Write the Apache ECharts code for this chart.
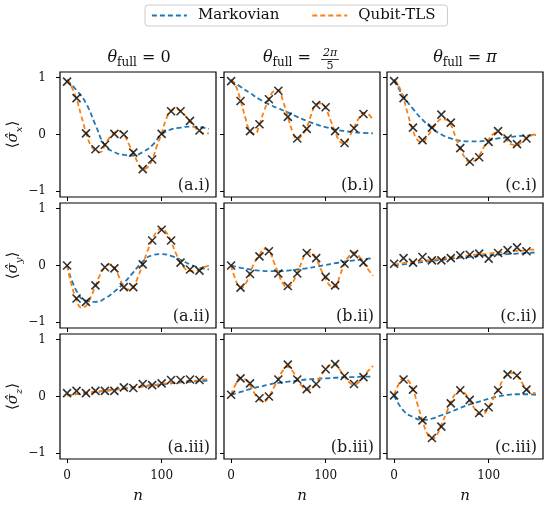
<!DOCTYPE html>
<html><head><meta charset="utf-8">
<script src="https://cdn.jsdelivr.net/npm/echarts@6/dist/echarts.min.js"></script>
<style>html,body{margin:0;padding:0;background:#fff}#c{width:546px;height:508px}</style>
</head><body><div id="c"></div>
<script>
// ---------- sampling grids (n) ----------
const markerN = [0,10,20,30,40,50,60,70,80,90,100,110,120,130,140];
const markovN = [0,10,20,30,40,50,60,70,80,90,100,110,120,130,140,150];
const tlsN = [0,5,10,15,20,25,30,35,40,45,50,55,60,65,70,75,80,85,90,95,100,105,110,115,120,125,130,135,140,145,150];
const xTicks = [0, 100];
const yTicks = [-1, 0, 1];
const panelLabels = ['(a.i)','(b.i)','(c.i)','(a.ii)','(b.ii)','(c.ii)','(a.iii)','(b.iii)','(c.iii)'];
const legendNames = ['Markovian', 'Qubit-TLS'];

// ---------- row i : <sigma_x> ----------
const markAI = [0.93,0.64,0.02,-0.26,-0.18,0.01,0.0,-0.32,-0.61,-0.44,0.01,0.41,0.41,0.24,0.07];
const tlsAI = [0.97,0.83,0.62,0.33,0.04,-0.19,-0.28,-0.31,-0.19,-0.05,0.03,0.06,0.0,-0.16,-0.32,-0.5,-0.61,-0.58,-0.44,-0.2,0.02,0.28,0.42,0.45,0.41,0.33,0.23,0.13,0.06,0.02,0.02];
const markovAI = [0.95,0.78,0.55,0.17,-0.19,-0.31,-0.36,-0.37,-0.31,-0.19,0.0,0.09,0.12,0.14,0.13,0.1];

const markBI = [0.94,0.59,0.06,0.18,0.62,0.77,0.31,-0.07,0.10,0.52,0.48,0.06,-0.15,0.11,0.36];
const tlsBI = [0.97,0.85,0.6,0.3,0.06,0.01,0.18,0.42,0.62,0.76,0.78,0.58,0.31,0.05,-0.08,-0.01,0.12,0.36,0.53,0.55,0.46,0.26,0.05,-0.12,-0.16,-0.04,0.12,0.28,0.38,0.36,0.24];
const markovBI = [0.95,0.84,0.73,0.62,0.53,0.46,0.39,0.31,0.24,0.18,0.13,0.09,0.06,0.04,0.03,0.02];

const markCI = [0.94,0.64,0.12,-0.10,0.12,0.35,0.21,-0.24,-0.48,-0.40,-0.13,0.06,-0.07,-0.17,-0.07];
const tlsCI = [0.97,0.85,0.63,0.33,0.07,-0.1,-0.13,-0.04,0.09,0.2,0.27,0.26,0.17,-0.04,-0.24,-0.41,-0.49,-0.46,-0.37,-0.22,-0.09,0.01,0.04,-0.02,-0.11,-0.18,-0.19,-0.13,-0.06,-0.01,0.0];
const markovCI = [0.95,0.67,0.45,0.26,0.11,0.0,-0.07,-0.11,-0.12,-0.12,-0.1,-0.07,-0.05,-0.03,-0.02,-0.01];

// ---------- row ii : <sigma_y> ----------
const markAII = [0.0,-0.58,-0.64,-0.35,-0.03,-0.05,-0.38,-0.38,0.02,0.44,0.63,0.44,0.05,-0.07,-0.09];
const tlsAII = [0.0,-0.36,-0.6,-0.74,-0.71,-0.56,-0.36,-0.16,-0.03,0.02,-0.04,-0.2,-0.37,-0.42,-0.38,-0.2,0.02,0.25,0.45,0.6,0.65,0.58,0.42,0.22,0.05,-0.06,-0.1,-0.1,-0.07,-0.03,0.0];
const markovAII = [0.0,-0.45,-0.62,-0.64,-0.58,-0.46,-0.31,-0.12,0.07,0.18,0.2,0.17,0.1,0.02,-0.04,-0.07];

const markBII = [0.0,-0.39,-0.15,0.16,0.25,-0.14,-0.36,-0.14,0.22,0.13,-0.2,-0.35,0.03,0.2,0.05];
const tlsBII = [0.0,-0.26,-0.4,-0.33,-0.14,0.06,0.18,0.29,0.26,0.07,-0.14,-0.32,-0.39,-0.3,-0.13,0.07,0.23,0.22,0.12,-0.07,-0.23,-0.36,-0.38,-0.18,0.03,0.17,0.23,0.17,0.05,-0.07,-0.18];
const markovBII = [0.0,-0.04,-0.07,-0.09,-0.1,-0.1,-0.09,-0.07,-0.05,-0.02,0.01,0.04,0.07,0.09,0.11,0.13];

const markCII = [0.03,0.13,0.05,0.15,0.09,0.09,0.13,0.18,0.19,0.21,0.12,0.22,0.27,0.32,0.25];
const tlsCII = [0.01,0.03,0.04,0.05,0.06,0.07,0.08,0.09,0.1,0.11,0.12,0.13,0.14,0.15,0.16,0.17,0.18,0.19,0.2,0.2,0.21,0.22,0.23,0.23,0.24,0.25,0.26,0.26,0.27,0.28,0.28];
const markovCII = [0.0,0.02,0.04,0.06,0.08,0.1,0.12,0.14,0.15,0.17,0.18,0.19,0.2,0.21,0.22,0.23];

// ---------- row iii : <sigma_z> ----------
const markAIII = [0.06,0.1,0.06,0.1,0.1,0.1,0.16,0.15,0.22,0.2,0.23,0.29,0.29,0.3,0.29];
const tlsAIII = [0.02,0.03,0.04,0.05,0.06,0.07,0.08,0.09,0.1,0.11,0.12,0.13,0.14,0.15,0.16,0.17,0.18,0.19,0.2,0.21,0.22,0.23,0.24,0.25,0.26,0.27,0.28,0.28,0.29,0.3,0.31];
const markovAIII = [0.02,0.04,0.06,0.08,0.1,0.12,0.14,0.16,0.18,0.2,0.21,0.23,0.25,0.26,0.27,0.28];

const markBIII = [0.03,0.32,0.23,-0.03,0.0,0.3,0.56,0.3,0.13,0.22,0.48,0.57,0.36,0.22,0.34];
const tlsBIII = [0.03,0.22,0.33,0.3,0.2,0.05,-0.06,-0.09,0.0,0.15,0.31,0.46,0.52,0.45,0.3,0.18,0.12,0.14,0.22,0.36,0.48,0.56,0.57,0.47,0.35,0.25,0.21,0.25,0.35,0.45,0.54];
const markovBIII = [0.03,0.08,0.13,0.17,0.21,0.24,0.26,0.28,0.3,0.31,0.32,0.33,0.34,0.34,0.35,0.35];

const markCIII = [0.02,0.3,0.12,-0.42,-0.73,-0.53,-0.12,0.11,-0.06,-0.29,-0.19,0.11,0.39,0.37,0.12];
const tlsCIII = [0.03,0.22,0.32,0.28,0.12,-0.15,-0.42,-0.65,-0.75,-0.68,-0.5,-0.3,-0.1,0.05,0.11,0.05,-0.07,-0.21,-0.31,-0.3,-0.18,-0.03,0.12,0.29,0.39,0.41,0.36,0.25,0.13,0.08,0.05];
const markovCIII = [0.02,-0.25,-0.36,-0.41,-0.39,-0.33,-0.27,-0.2,-0.14,-0.09,-0.04,0.0,0.03,0.04,0.04,0.03];

const panels = [
  {mark: markAI, tls: tlsAI, markov: markovAI},
  {mark: markBI, tls: tlsBI, markov: markovBI},
  {mark: markCI, tls: tlsCI, markov: markovCI},
  {mark: markAII, tls: tlsAII, markov: markovAII},
  {mark: markBII, tls: tlsBII, markov: markovBII},
  {mark: markCII, tls: tlsCII, markov: markovCII},
  {mark: markAIII, tls: tlsAIII, markov: markovAIII},
  {mark: markBIII, tls: tlsBIII, markov: markovBIII},
  {mark: markCIII, tls: tlsCIII, markov: markovCIII}
];
const yNames = ['x', 'y', 'z'];

// ---------- layout / style ----------
const colLeft = [60, 224, 387];
const rowTop = [72, 203, 334];
const W = 156, H = 125;
const BLUE = '#1f77b4', ORANGE = '#ff7f0e', INK = '#111';
const SERIF = "'DejaVu Serif', 'DejaVu Sans', serif";
const XPATH = 'path://M0,0L10,10M10,0L0,10';

const grids = [], xAxes = [], yAxes = [], series = [], graphics = [];
panels.forEach((p, i) => {
  const r = Math.floor(i / 3), c = i % 3;
  grids.push({left: colLeft[c], top: rowTop[r], width: W, height: H, show: true,
    borderColor: '#000', borderWidth: 1.2, backgroundColor: 'transparent', containLabel: false});
  xAxes.push({type: 'value', gridIndex: i, min: -7.5, max: 157.5,
    axisLine: {show: false, onZero: false}, splitLine: {show: false},
    axisTick: {show: true, length: 4, customValues: xTicks, lineStyle: {color: '#000', width: 1}},
    axisLabel: {show: r === 2, customValues: xTicks, margin: 11, color: INK, fontFamily: SERIF, fontSize: 12},
    name: r === 2 ? 'n' : '', nameLocation: 'middle', nameGap: 30,
    nameTextStyle: {fontFamily: SERIF, fontStyle: 'italic', fontSize: 15, color: INK}});
  yAxes.push({type: 'value', gridIndex: i, min: -1.1, max: 1.1,
    axisLine: {show: false, onZero: false}, splitLine: {show: false},
    axisTick: {show: true, length: 4, customValues: yTicks, lineStyle: {color: '#000', width: 1}},
    axisLabel: {show: c === 0, customValues: yTicks, margin: 14, color: INK, fontFamily: SERIF, fontSize: 12,
      formatter: v => v < 0 ? '\u2212' + Math.abs(v) : String(v)},
    name: c === 0 ? '{a|\u27E8}{s|\u03C3\u0302}{b|' + yNames[r] + '}{a|\u27E9}' : '',
    nameLocation: 'middle', nameGap: 24, nameRotate: 90,
    nameTextStyle: {color: INK, rich: {
      a: {fontFamily: SERIF, fontSize: 15, lineHeight: 22, color: INK, verticalAlign: 'middle'},
      s: {fontFamily: SERIF, fontSize: 15, fontStyle: 'italic', lineHeight: 22, color: INK, verticalAlign: 'middle'},
      b: {fontFamily: SERIF, fontSize: 10, fontStyle: 'italic', lineHeight: 11, color: INK, verticalAlign: 'bottom'}
    }}});
  series.push({type: 'line', name: legendNames[0], xAxisIndex: i, yAxisIndex: i,
    data: markovN.map((x, k) => [x, p.markov[k]]), smooth: 0.5, symbol: 'none',
    lineStyle: {color: BLUE, width: 1.8, type: [5, 3]}, itemStyle: {color: BLUE}, z: 2, silent: true});
  series.push({type: 'line', name: legendNames[1], xAxisIndex: i, yAxisIndex: i,
    data: tlsN.map((x, k) => [x, p.tls[k]]), smooth: 0.5, symbol: 'none',
    lineStyle: {color: ORANGE, width: 1.8, type: [5, 3]}, itemStyle: {color: ORANGE}, z: 3, silent: true});
  series.push({type: 'scatter', name: 'data', xAxisIndex: i, yAxisIndex: i,
    data: markerN.map((x, k) => [x, p.mark[k]]), symbol: XPATH, symbolSize: 8,
    itemStyle: {color: 'rgba(0,0,0,0)', borderColor: '#000', borderWidth: 1.6}, z: 4, silent: true});
  graphics.push({type: 'text', x: colLeft[c] + W - 6, y: rowTop[r] + H - 3, z: 10,
    style: {text: panelLabels[i], font: "16px 'DejaVu Serif'", fill: '#1a1a1a', textAlign: 'right', textVerticalAlign: 'bottom'}});
});

// column titles
const titleRich = {
  t: {fontFamily: SERIF, fontSize: 16, fontStyle: 'italic', lineHeight: 22, fill: INK, verticalAlign: 'middle'},
  u: {fontFamily: SERIF, fontSize: 12, lineHeight: 11, fill: INK, verticalAlign: 'bottom'},
  m: {fontFamily: SERIF, fontSize: 16, lineHeight: 22, fill: INK, verticalAlign: 'middle'},
  mi: {fontFamily: SERIF, fontSize: 16, fontStyle: 'italic', lineHeight: 22, fill: INK, verticalAlign: 'middle'}
};
graphics.push({type: 'text', x: 139, y: 58, style: {text: '{t|\u03B8}{u|full}{m| = 0}', rich: titleRich, textAlign: 'center', textVerticalAlign: 'middle'}});
graphics.push({type: 'text', x: 316, y: 58, style: {text: '{t|\u03B8}{u|full}{m| = }', rich: titleRich, textAlign: 'right', textVerticalAlign: 'middle'}});
graphics.push({type: 'text', x: 330, y: 53, style: {text: '2\u03C0', font: "italic 11px 'DejaVu Serif'", fill: INK, textAlign: 'center', textVerticalAlign: 'middle'}});
graphics.push({type: 'line', shape: {x1: 321, y1: 59.5, x2: 339, y2: 59.5}, style: {stroke: INK, lineWidth: 0.8}});
graphics.push({type: 'text', x: 330, y: 66, style: {text: '5', font: "11px 'DejaVu Serif'", fill: INK, textAlign: 'center', textVerticalAlign: 'middle'}});
graphics.push({type: 'text', x: 465, y: 58, style: {text: '{t|\u03B8}{u|full}{m| = }{mi|\u03C0}', rich: titleRich, textAlign: 'center', textVerticalAlign: 'middle'}});

const chart = echarts.init(document.getElementById('c'), null, {renderer: 'canvas'});
chart.setOption({
  animation: false,
  backgroundColor: '#fff',
  legend: {data: legendNames, left: 145, top: 5, itemWidth: 35, itemHeight: 12, itemGap: 32,
    padding: [3, 12, 3, 6], borderColor: '#cccccc', borderWidth: 1, borderRadius: 3,
    backgroundColor: '#fff', selectedMode: false,
    itemStyle: {opacity: 0},
    lineStyle: {width: 1.8, type: [5, 3]},
    textStyle: {fontFamily: SERIF, fontSize: 15, color: INK, padding: [0, 0, 0, 6]}},
  grid: grids, xAxis: xAxes, yAxis: yAxes, series: series, graphic: graphics
});
</script></body></html>
